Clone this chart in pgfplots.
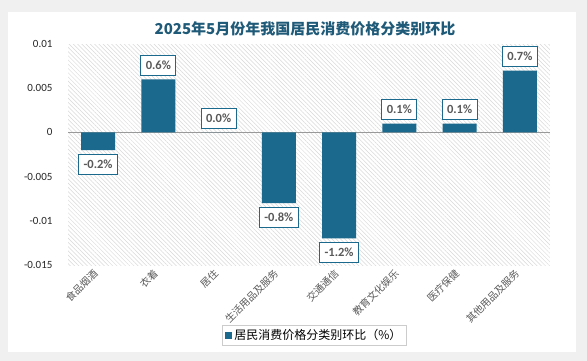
\documentclass[border=0pt]{standalone}
\usepackage{pgfplots}
\pgfplotsset{compat=1.18}
\usepackage{pgfplotstable}
\usepackage{fontspec}
\setmainfont{Carlito}
\newfontfamily\cjk{Noto Sans CJK SC}
\usetikzlibrary{patterns.meta}
\definecolor{bar}{RGB}{27,106,142}
\definecolor{ttl}{RGB}{31,90,120}
\definecolor{lbl}{RGB}{89,89,89}

\pgfplotstableread{
x y label
1 0.006 0.6\%
2 0.0 0.0\%
5 0.001 0.1\%
6 0.001 0.1\%
7 0.007 0.7\%
}\postable
\pgfplotstableread{
x y label
0 -0.002 -0.2\%
3 -0.008 -0.8\%
4 -0.012 -1.2\%
}\negtable

\begin{document}
\begin{tikzpicture}[x=1pt,y=1pt]
\fill[gray!12] (0,0) rectangle (587,-361);
\fill[white] (8,-12) rectangle (576,-352);
\node[font=\cjk\bfseries\fontsize{15}{18}\selectfont, text=ttl] at (305,-29) {2025年5月份年我国居民消费价格分类别环比};
\begin{axis}[
  at={(68pt,-265pt)}, anchor=south west,
  scale only axis, width=482pt, height=221pt,
  xmin=-0.5, xmax=7.5, ymin=-0.015, ymax=0.01,
  scaled y ticks=false,
  axis line style={draw=none}, major tick style={draw=none},
  axis background/.style={pattern={Lines[angle=-45,distance=3pt,line width=0.5pt]}, pattern color=gray!30},
  xtick={0,...,7},
  xticklabels={食品烟酒,衣着,居住,生活用品及服务,交通通信,教育文化娱乐,医疗保健,其他用品及服务},
  xticklabel style={rotate=45, anchor=east, font=\cjk\fontsize{10}{12}\selectfont, text=lbl},
  ytick={-0.015,-0.01,-0.005,0,0.005,0.01},
  yticklabels={-0.015,-0.01,-0.005,0,0.005,0.01},
  yticklabel style={font=\fontsize{11}{13}\selectfont, text=black!85, xshift=-12pt},
  ybar, bar width=34pt, bar shift=0pt,
  nodes near coords, point meta=explicit symbolic,
  nodes near coords style={font=\bfseries\fontsize{12.5}{14}\selectfont, text=lbl, draw=bar, line width=1pt, fill=white, inner xsep=5pt, inner ysep=3pt, minimum height=20pt, outer sep=4pt},
  legend style={at={(0.511,-0.319)}, anchor=center, draw=gray!40, fill=white, font=\cjk\fontsize{12}{14}\selectfont, inner xsep=3pt, inner ysep=2pt},
]
\draw[black!40, line width=0.7pt] (axis cs:-0.5,0) -- (axis cs:7.5,0);
\addplot[fill=bar, draw=none, nodes near coords style={anchor=south},
  legend image code/.code={\fill[bar] (0pt,-3.5pt) rectangle (7pt,3.5pt);}] table[x=x,y=y,meta=label]{\postable};
\addlegendentry{居民消费价格分类别环比（\%）}
\addplot[fill=bar, draw=none, nodes near coords style={anchor=north}, forget plot] table[x=x,y=y,meta=label]{\negtable};
\end{axis}
\end{tikzpicture}
\end{document}
